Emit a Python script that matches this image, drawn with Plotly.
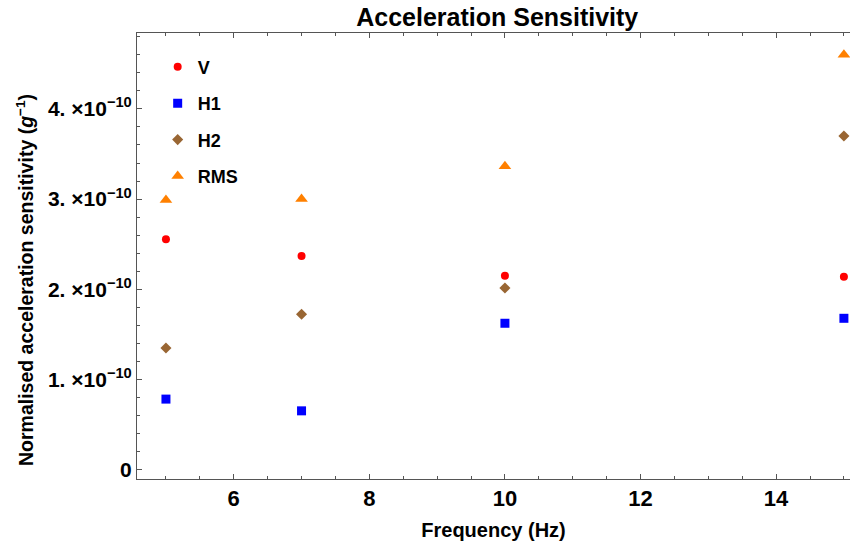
import plotly.graph_objects as go

freq = [5, 7, 10, 15]
v_vals = [2.555e-10, 2.37e-10, 2.15e-10, 2.14e-10]
h1_vals = [0.785e-10, 0.655e-10, 1.625e-10, 1.68e-10]
h2_vals = [1.35e-10, 1.725e-10, 2.015e-10, 3.70e-10]
rms_vals = [2.99e-10, 3.00e-10, 3.365e-10, 4.60e-10]

y_tickvals = [0, 1e-10, 2e-10, 3e-10, 4e-10]
y_ticktext = ["0", "1. ×10<sup>−10</sup>", "2. ×10<sup>−10</sup>", "3. ×10<sup>−10</sup>", "4. ×10<sup>−10</sup>"]
x_tickvals = [6, 8, 10, 12, 14]
x_ticktext = ["6", "8", "10", "12", "14"]

FONT = "Liberation Sans, Arial, sans-serif"

series = [
    ("V", v_vals, "circle", "#ff0000", 8),
    ("H1", h1_vals, "square", "#0000ff", 9),
    ("H2", h2_vals, "diamond", "#996633", 8.5),
    ("RMS", rms_vals, "triangle-up", "#ff8000", 11),
]

fig = go.Figure()
for name, vals, sym, col, sz in series:
    fig.add_trace(go.Scatter(
        x=freq, y=vals, mode="markers", name=f"<b>{name}</b>", legendgroup=name,
        marker=dict(symbol=sym, color=col, size=sz, line=dict(width=0)),
        cliponaxis=False,
    ))

fig.update_layout(
    width=850, height=552,
    margin=dict(l=137, r=0, t=33, b=73),
    paper_bgcolor="white", plot_bgcolor="white",
    title=dict(text="<b>Acceleration Sensitivity</b>", x=0.585, xref="container", xanchor="center",
               y=0.985, yanchor="top",
               font=dict(family=FONT, size=25, color="black")),
    legend=dict(x=0.029, y=0.965, xanchor="left", yanchor="top",
                bgcolor="rgba(0,0,0,0)", tracegroupgap=10,
                font=dict(family=FONT, size=18, color="black")),
    annotations=[dict(
        text="<b>Normalised acceleration sensitivity (<i>g</i><sup>−1</sup>)</b>",
        textangle=-90, xref="paper", yref="paper",
        x=(25 - 137) / 713, y=(479 - 280) / 446, xanchor="center", yanchor="middle",
        showarrow=False, font=dict(family=FONT, size=19.5, color="black"),
    )],
)

fig.update_xaxes(
    range=[4.573, 15.09], tickmode="array", tickvals=x_tickvals,
    ticktext=[f"<b>{t}</b>" for t in x_ticktext],
    tickfont_family=FONT, tickfont_size=22, tickfont_color="black",
    showgrid=False, zeroline=False, showline=True, linecolor="#555555", linewidth=1,
    ticks="inside", tickcolor="#555555", ticklen=5, mirror="ticks",
    minor=dict(dtick=0.5, tick0=0, ticks="inside", ticklen=3, tickcolor="#555555"),
    title_text="<b>Frequency (Hz)</b>", title_font=dict(family=FONT, size=20, color="black"),
    title_standoff=12,
)
fig.update_yaxes(
    range=[-0.1e-10, 4.84e-10], tickmode="array", tickvals=y_tickvals,
    ticktext=[f"<b>{t}</b>" for t in y_ticktext],
    tickfont_family=FONT, tickfont_size=21, tickfont_color="black",
    showgrid=False, zeroline=False, showline=True, linecolor="#555555", linewidth=1,
    ticks="inside", tickcolor="#555555", ticklen=5, mirror=False,
    minor=dict(dtick=0.2e-10, tick0=0, ticks="inside", ticklen=3, tickcolor="#555555"),
)

fig.write_html("out.html")
